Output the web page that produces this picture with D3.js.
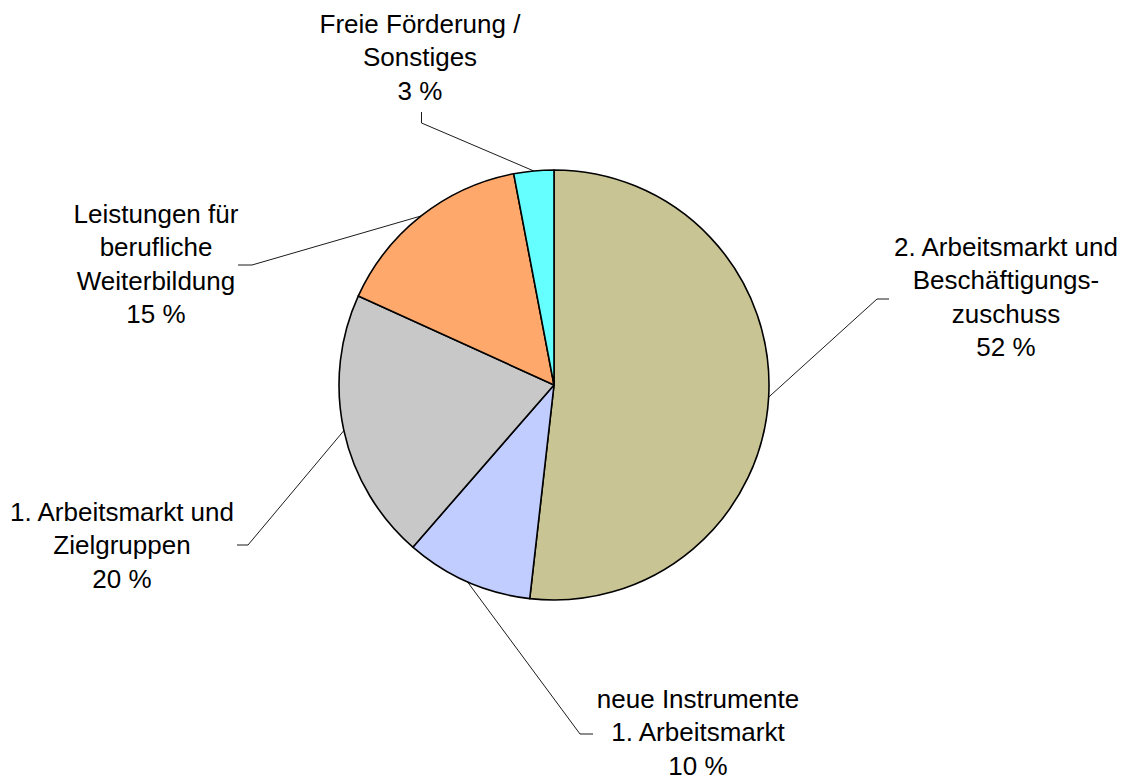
<!DOCTYPE html>
<html>
<head>
<meta charset="utf-8">
<script src="https://cdn.jsdelivr.net/npm/d3@7"></script>
<style>
  body { margin: 0; background: #fff; }
  svg { display: block; }
</style>
</head>
<body>
<div id="chart"></div>
<script>
// slices, clockwise from 12 o'clock
const categories = [
    ["2. Arbeitsmarkt und", "Beschäftigungs-", "zuschuss"],
    ["neue Instrumente", "1. Arbeitsmarkt"],
    ["1. Arbeitsmarkt und", "Zielgruppen"],
    ["Leistungen für", "berufliche", "Weiterbildung"],
    ["Freie Förderung /", "Sonstiges"]
]
const shares = [51.8, 9.6, 20.4, 15.2, 3.0]
const sliceColors = ["#C9C493", "#C2CDFF", "#C8C8C8", "#FFA86B", "#66FFFF"]

// where each label block sits (center x, first baseline) and the elbow of its leader line
const labelLayout = [
    { x: 1006, y: 256, elbow: [[889, 299], [877, 299]] },
    { x: 698, y: 708, elbow: [[593, 734], [580, 734]] },
    { x: 122, y: 521, elbow: [[237, 545], [248, 545]] },
    { x: 156, y: 223, elbow: [[238, 265], [252, 265]] },
    { x: 420, y: 33, elbow: [[421.5, 112], [421.5, 123]] }
]

const width = 1128, height = 780
const cx = 554, cy = 385, radius = 215
const lineHeight = 33.3

const svg = d3.select("#chart").append("svg")
    .attr("width", width)
    .attr("height", height)

const pie = d3.pie().sort(null).value(function(d) { return d; })
const arcs = pie(shares)

const arc = d3.arc().innerRadius(0).outerRadius(radius)

const g = svg.append("g")
    .attr("transform", "translate(" + cx + "," + cy + ")")

g.selectAll("path")
    .data(arcs)
    .enter()
    .append("path")
        .attr("d", arc)
        .style("fill", function(d, i) { return sliceColors[i]; })
        .attr("stroke", "#000")
        .style("stroke-width", 1.6)
        .style("stroke-linejoin", "round")

// leader lines: elbow -> middle of the slice edge
svg.append("g")
    .selectAll("path")
    .data(arcs)
    .enter()
    .append("path")
        .attr("d", function(d, i) {
            const mid = (d.startAngle + d.endAngle) / 2
            const px = cx + radius * Math.sin(mid)
            const py = cy - radius * Math.cos(mid)
            const e = labelLayout[i].elbow
            return "M" + e[0][0] + "," + e[0][1] + "L" + e[1][0] + "," + e[1][1] + "L" + px + "," + py
        })
        .attr("fill", "none")
        .attr("stroke", "#000")
        .style("stroke-width", 0.9)

// labels
const labels = svg.append("g")
    .selectAll("text")
    .data(arcs)
    .enter()
    .append("text")
        .attr("text-anchor", "middle")
        .style("font-family", "'Liberation Sans', Arial, sans-serif")
        .style("font-size", "26px")
        .style("fill", "#000")

labels.each(function(d, i) {
    const lines = categories[i].concat([Math.round(d.data) + " %"])
    d3.select(this).selectAll("tspan")
        .data(lines)
        .enter()
        .append("tspan")
            .attr("x", labelLayout[i].x)
            .attr("y", function(l, k) { return labelLayout[i].y + k * lineHeight; })
            .text(function(l) { return l; })
})
</script>
</body>
</html>
